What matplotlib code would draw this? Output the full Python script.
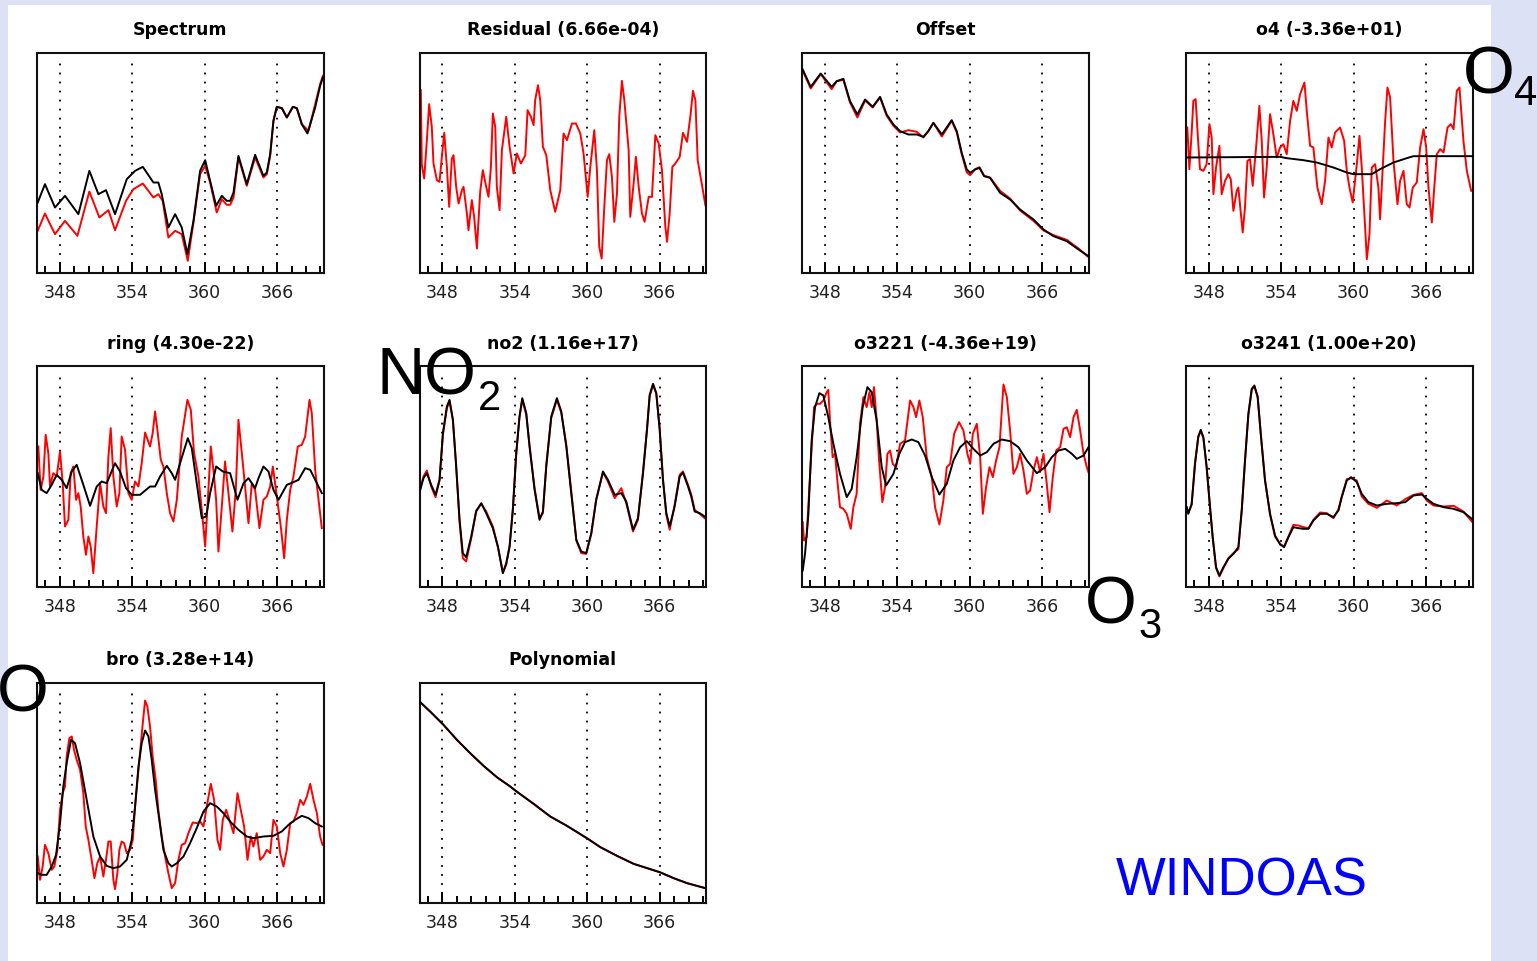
"""
WinDOAS fit result panels: measured (red) vs fitted (black) optical
densities for each fitted cross section, 346-370 nm window.
Y values are in arbitrary units (0-660 per panel), x is wavelength in nm.
"""
import matplotlib

matplotlib.use("Agg")
import matplotlib.pyplot as plt
from matplotlib.patches import Rectangle
from matplotlib.ticker import MultipleLocator

# ---- data -----------------------------------------------------------------
tick_nm = [348, 354, 360, 366]

spectrum_wl_k = [346.16, 346.76, 347.59, 348.42, 349.53, 350.44, 351.19, 351.82, 352.57, 353.54,
                 354.23, 354.87, 355.75, 356.16, 356.44, 356.99, 357.55, 358.10, 358.57, 359.07,
                 359.62, 360.04, 360.45, 360.95, 361.42, 361.83, 362.11, 362.39, 362.80, 363.49,
                 364.18, 364.87, 365.15, 365.43, 365.70, 365.98, 366.40, 366.81, 367.31, 367.64,
                 368.05, 368.52, 369.16, 369.57, 369.80]
spectrum_k = [210, 265, 195, 230, 175, 305, 235, 247, 175, 280,
              305, 317, 270, 270, 235, 135, 175, 135, 55, 155,
              305, 337, 275, 200, 230, 215, 215, 240, 350, 265,
              353, 290, 300, 355, 455, 497, 493, 465, 497, 493,
              445, 417, 495, 560, 585]
spectrum_wl_r = [346.16, 346.76, 347.59, 348.42, 349.45, 350.44, 351.27, 352.02, 352.57, 353.48,
                 354.09, 354.87, 355.75, 356.16, 356.52, 356.99, 357.55, 358.10, 358.60, 359.07,
                 359.62, 360.04, 360.45, 361.00, 361.42, 361.83, 362.11, 362.39, 362.80, 363.49,
                 364.18, 364.87, 365.15, 365.43, 365.70, 365.98, 366.40, 366.81, 367.31, 367.64,
                 368.05, 368.61, 369.16, 369.57, 369.80]
spectrum_r = [125, 177, 115, 155, 110, 243, 165, 187, 127, 215,
              250, 267, 225, 235, 215, 105, 125, 115, 35, 150,
              295, 320, 270, 180, 220, 203, 203, 225, 345, 260,
              345, 285, 295, 350, 455, 497, 493, 465, 497, 493,
              445, 425, 505, 565, 590]

residual_wl = [346.21, 346.29, 346.49, 346.71, 346.90, 347.12, 347.26, 347.54, 347.76, 347.98,
               348.15, 348.37, 348.56, 348.78, 348.92, 349.14, 349.34, 349.61, 349.75, 350.03,
               350.16, 350.44, 350.63, 350.86, 351.13, 351.35, 351.63, 351.82, 352.02, 352.18,
               352.38, 352.51, 352.74, 352.93, 353.29, 353.57, 353.90, 354.17, 354.51, 354.87,
               355.06, 355.34, 355.56, 355.69, 355.92, 356.11, 356.33, 356.61, 356.94, 357.35,
               357.77, 358.04, 358.32, 358.74, 359.07, 359.43, 359.70, 360.04, 360.26, 360.59,
               360.81, 361.00, 361.20, 361.42, 361.64, 361.83, 362.05, 362.25, 362.47, 362.66,
               362.88, 363.08, 363.44, 363.57, 363.85, 364.04, 364.27, 364.54, 364.76, 365.10,
               365.37, 365.65, 365.93, 366.20, 366.48, 366.62, 366.84, 367.06, 367.31, 367.67,
               367.94, 368.28, 368.55, 368.77, 368.97, 369.16, 369.52, 369.80]
residual = [547, 322, 282, 397, 505, 437, 327, 277, 272, 357,
            419, 317, 197, 342, 352, 257, 207, 247, 257, 177,
            127, 217, 167, 72, 242, 307, 257, 227, 317, 477,
            437, 257, 187, 367, 467, 377, 297, 357, 327, 352,
            487, 467, 442, 517, 562, 517, 377, 352, 247, 182,
            247, 417, 397, 447, 447, 417, 357, 227, 317, 427,
            307, 77, 42, 197, 337, 355, 287, 152, 237, 467,
            575, 517, 367, 167, 267, 347, 257, 177, 152, 227,
            227, 412, 387, 307, 137, 92, 177, 317, 327, 347,
            419, 392, 467, 545, 517, 337, 262, 202]

offset_wl = [346.16, 346.82, 347.65, 348.56, 348.98, 349.53, 350.08, 350.69, 351.33, 351.96,
             352.57, 353.12, 353.68, 354.23, 354.92, 355.61, 356.16, 356.58, 356.99, 357.69,
             358.51, 358.93, 359.34, 359.76, 360.04, 360.45, 360.81, 361.20, 361.69, 362.52,
             363.35, 364.18, 365.29, 366.12, 366.95, 368.05, 369.02, 369.85]
offset_k = [609, 557, 597, 557, 574, 581, 514, 474, 519, 497,
            527, 474, 444, 424, 414, 414, 407, 424, 449, 414,
            457, 424, 359, 309, 299, 309, 314, 289, 284, 239,
            219, 189, 159, 129, 109, 94, 69, 49]
offset_r = [605, 552, 595, 550, 574, 578, 510, 465, 516, 495,
            525, 470, 440, 420, 427, 422, 405, 425, 449, 408,
            455, 420, 355, 300, 292, 310, 316, 290, 285, 245,
            222, 186, 155, 126, 112, 98, 72, 46]

o4_wl_k = [346.15, 353.90, 354.45, 355.83, 356.94, 358.32, 359.43, 359.98, 361.50, 362.19,
           363.30, 364.40, 364.96, 369.85]
o4_k = [345, 347, 343, 337, 330, 315, 300, 295, 295, 310, 330, 343, 349, 349]
o4_wl_r = [346.21, 346.38, 346.57, 346.71, 346.90, 347.07, 347.26, 347.54, 347.81, 348.04,
           348.23, 348.37, 348.59, 348.87, 349.06, 349.34, 349.61, 349.81, 350.03, 350.30,
           350.44, 350.80, 350.99, 351.19, 351.41, 351.63, 351.91, 352.18, 352.38, 352.57,
           352.79, 353.07, 353.34, 353.62, 353.90, 354.17, 354.45, 354.73, 355.00, 355.28,
           355.56, 355.92, 356.11, 356.39, 356.66, 356.99, 357.35, 357.63, 357.91, 358.18,
           358.46, 358.87, 359.21, 359.43, 359.65, 359.92, 360.26, 360.48, 360.67, 360.95,
           361.09, 361.31, 361.50, 361.78, 362.05, 362.19, 362.41, 362.61, 362.80, 363.02,
           363.30, 363.63, 363.85, 364.13, 364.40, 364.63, 364.90, 365.23, 365.51, 365.79,
           366.01, 366.20, 366.48, 366.67, 366.89, 367.17, 367.45, 367.78, 368.05, 368.28,
           368.55, 368.77, 369.10, 369.38, 369.74]
o4_r = [435, 310, 420, 515, 520, 415, 310, 305, 325, 445,
        405, 235, 315, 380, 235, 275, 295, 280, 185, 245,
        255, 120, 195, 335, 340, 260, 375, 500, 395, 225,
        315, 475, 415, 345, 375, 385, 355, 455, 515, 485,
        535, 570, 485, 380, 375, 255, 205, 275, 405, 375,
        420, 435, 395, 305, 255, 210, 325, 410, 315, 135,
        40, 115, 315, 325, 255, 160, 315, 455, 555, 525,
        335, 205, 275, 305, 205, 195, 255, 270, 375, 430,
        375, 255, 150, 250, 355, 370, 360, 435, 445, 430,
        545, 555, 395, 305, 245]

ring_wl_k = [346.16, 346.49, 346.90, 347.32, 347.73, 348.15, 348.56, 348.98, 349.39, 349.94,
             350.50, 351.05, 351.46, 351.88, 352.57, 352.98, 353.48, 353.95, 354.64, 355.47,
             355.89, 356.30, 356.86, 357.27, 357.55, 357.96, 358.60, 358.93, 359.34, 359.76,
             360.12, 360.45, 360.95, 361.50, 362.11, 362.72, 363.22, 363.63, 364.18, 364.46,
             364.87, 365.29, 365.70, 366.12, 366.81, 367.36, 367.78, 368.33, 368.75, 369.30,
             369.71]
ring_k = [340, 290, 280, 305, 335, 320, 295, 345, 365, 305,
          242, 300, 315, 310, 370, 345, 295, 275, 275, 300,
          300, 330, 362, 340, 320, 370, 445, 415, 310, 205,
          210, 280, 360, 345, 340, 260, 310, 325, 295, 325,
          360, 345, 290, 260, 305, 313, 320, 355, 350, 310,
          280]
ring_wl_r = [346.21, 346.40, 346.63, 346.82, 347.04, 347.18, 347.45, 347.73, 348.01, 348.23,
             348.42, 348.70, 348.89, 349.11, 349.34, 349.53, 349.72, 349.94, 350.16, 350.36,
             350.55, 350.77, 351.05, 351.33, 351.60, 351.82, 352.02, 352.21, 352.43, 352.71,
             352.93, 353.12, 353.40, 353.68, 353.95, 354.23, 354.51, 354.78, 355.06, 355.47,
             355.69, 355.89, 356.08, 356.36, 356.58, 356.86, 357.13, 357.41, 357.69, 358.10,
             358.57, 358.85, 359.12, 359.48, 359.76, 360.04, 360.23, 360.51, 360.78, 360.95,
             361.14, 361.42, 361.69, 361.97, 362.30, 362.58, 362.80, 363.08, 363.35, 363.63,
             363.91, 364.18, 364.54, 364.87, 365.15, 365.43, 365.65, 365.98, 366.31, 366.59,
             366.81, 367.09, 367.36, 367.72, 368.05, 368.33, 368.69, 368.88, 369.16, 369.44,
             369.71]
ring_r = [420, 290, 330, 455, 400, 300, 340, 330, 405, 310,
          180, 200, 340, 360, 260, 280, 240, 150, 95, 150,
          120, 40, 180, 310, 240, 220, 390, 475, 330, 240,
          280, 450, 410, 280, 260, 315, 300, 370, 462, 420,
          460, 525, 470, 380, 360, 280, 220, 195, 260, 450,
          560, 530, 400, 330, 230, 120, 240, 420, 330, 260,
          105, 240, 375, 280, 165, 290, 500, 400, 300, 190,
          310, 290, 175, 260, 270, 300, 360, 270, 180, 85,
          200, 290, 330, 420, 425, 450, 560, 520, 350, 260,
          175]

no2_wl = [346.16, 346.43, 346.71, 347.07, 347.43, 347.76, 348.04, 348.37, 348.59, 348.87,
          349.14, 349.42, 349.69, 349.97, 350.39, 350.80, 351.22, 351.63, 352.18, 352.60,
          353.01, 353.29, 353.57, 353.84, 354.12, 354.39, 354.62, 354.95, 355.22, 355.64,
          356.05, 356.33, 356.61, 357.02, 357.49, 357.85, 358.27, 358.68, 359.10, 359.51,
          359.92, 360.34, 360.75, 361.31, 361.72, 362.28, 362.83, 363.24, 363.80, 364.21,
          364.63, 364.96, 365.18, 365.46, 365.73, 366.01, 366.28, 366.56, 366.84, 367.25,
          367.67, 367.94, 368.36, 368.63, 368.91, 369.33, 369.74]
no2_k = [290, 325, 340, 305, 275, 320, 460, 540, 560, 500,
         360, 200, 100, 88, 150, 225, 250, 220, 175, 120,
         40, 70, 120, 230, 400, 510, 565, 520, 420, 290,
         200, 225, 360, 510, 565, 525, 420, 280, 140, 105,
         100, 160, 260, 345, 320, 275, 280, 255, 170, 205,
         340, 470, 575, 608, 580, 470, 320, 220, 180, 240,
         330, 342, 300, 270, 225, 220, 210]
no2_r = [293, 330, 348, 300, 268, 318, 455, 535, 555, 498,
         362, 195, 85, 75, 145, 228, 248, 225, 180, 118,
         42, 65, 122, 235, 398, 508, 560, 515, 425, 295,
         205, 220, 365, 505, 560, 522, 425, 285, 138, 100,
         98, 158, 262, 342, 315, 265, 295, 250, 165, 200,
         345, 475, 570, 605, 578, 475, 325, 215, 170, 245,
         335, 345, 305, 275, 230, 218, 205]

o3221_wl_k = [346.16, 346.35, 346.63, 346.90, 347.18, 347.54, 347.87, 348.28, 348.70, 349.25,
              349.81, 350.22, 350.63, 351.13, 351.52, 351.88, 352.29, 352.71, 353.07, 353.68,
              354.17, 354.64, 355.20, 355.75, 356.30, 356.86, 357.49, 358.10, 358.65, 359.21,
              359.76, 360.31, 360.87, 361.42, 361.97, 362.66, 363.35, 364.04, 364.74, 365.57,
              366.26, 366.81, 367.36, 367.92, 368.47, 368.88, 369.44, 369.85]
o3221_k = [48, 98, 218, 438, 538, 580, 573, 508, 428, 338,
           268, 293, 388, 538, 598, 583, 498, 358, 303, 338,
           398, 433, 441, 433, 393, 328, 276, 308, 378, 418,
           436, 413, 393, 403, 428, 441, 436, 418, 378, 340,
           358, 388, 408, 413, 398, 383, 393, 418]
o3221_wl_r = [346.16, 346.27, 346.49, 346.71, 346.90, 347.10, 347.32, 347.59, 347.87, 348.15,
              348.28, 348.42, 348.64, 348.84, 349.03, 349.25, 349.53, 349.81, 350.14, 350.36,
              350.63, 350.91, 351.19, 351.46, 351.69, 351.88, 352.07, 352.29, 352.49, 352.76,
              352.98, 353.18, 353.40, 353.62, 353.90, 354.23, 354.64, 355.06, 355.34, 355.56,
              355.83, 356.11, 356.44, 356.86, 357.13, 357.49, 357.82, 358.10, 358.38, 358.71,
              359.12, 359.48, 359.81, 360.04, 360.26, 360.59, 360.87, 361.09, 361.36, 361.64,
              361.92, 362.19, 362.47, 362.80, 363.08, 363.35, 363.63, 363.91, 364.18, 364.46,
              364.74, 365.01, 365.29, 365.57, 365.84, 366.12, 366.39, 366.62, 366.89, 367.17,
              367.50, 367.78, 368.05, 368.33, 368.61, 368.88, 369.16, 369.44, 369.71, 369.85]
o3221_r = [193, 138, 148, 298, 418, 538, 548, 548, 558, 583,
           590, 498, 388, 398, 318, 238, 233, 218, 173, 238,
           278, 488, 568, 538, 583, 538, 598, 498, 378, 253,
           298, 398, 408, 368, 358, 428, 438, 558, 538, 508,
           558, 508, 388, 328, 238, 186, 258, 358, 368, 458,
           493, 468, 398, 368, 458, 488, 388, 218, 298, 358,
           328, 378, 418, 606, 568, 468, 338, 358, 398, 348,
           278, 288, 348, 388, 343, 398, 308, 223, 328, 408,
           418, 473, 478, 448, 508, 530, 468, 398, 358, 343]

o3241_wl = [346.16, 346.29, 346.57, 346.85, 347.12, 347.32, 347.54, 347.81, 348.09, 348.31,
            348.59, 348.87, 349.20, 349.61, 350.03, 350.44, 350.72, 350.99, 351.27, 351.55,
            351.77, 352.04, 352.32, 352.65, 353.07, 353.48, 353.90, 354.23, 354.59, 355.00,
            355.42, 355.83, 356.25, 356.66, 357.22, 357.77, 358.32, 358.74, 359.01, 359.43,
            359.79, 360.26, 360.67, 361.22, 361.92, 362.75, 363.57, 364.27, 364.96, 365.65,
            366.06, 366.62, 367.45, 368.28, 369.10, 369.80]
o3241_k = [238, 218, 248, 368, 448, 470, 448, 358, 238, 148,
           58, 33, 58, 83, 98, 118, 228, 378, 518, 593,
           603, 568, 448, 318, 218, 153, 126, 118, 148, 178,
           175, 173, 173, 198, 218, 218, 208, 228, 268, 318,
           328, 313, 278, 253, 243, 248, 250, 253, 273, 276,
           263, 248, 238, 233, 223, 203]
o3241_r = [236, 222, 245, 372, 452, 466, 445, 360, 240, 150,
           55, 30, 55, 85, 100, 112, 230, 375, 515, 590,
           600, 570, 450, 320, 215, 150, 128, 120, 150, 185,
           183, 178, 175, 200, 222, 220, 205, 232, 270, 322,
           325, 318, 270, 248, 236, 258, 243, 262, 275, 280,
           258, 243, 240, 242, 225, 195]

bro_wl_k = [346.16, 346.49, 346.90, 347.32, 347.68, 348.01, 348.28, 348.56, 348.92, 349.25,
            349.67, 350.22, 350.77, 351.33, 351.88, 352.43, 352.98, 353.54, 353.95, 354.23,
            354.51, 354.78, 355.06, 355.34, 355.61, 355.89, 356.16, 356.58, 356.99, 357.27,
            357.69, 358.24, 358.79, 359.34, 359.90, 360.45, 361.00, 361.56, 362.11, 362.80,
            363.49, 364.04, 364.87, 365.70, 366.39, 366.95, 367.50, 368.05, 368.61, 369.16,
            369.71]
bro_k = [88, 83, 83, 108, 143, 238, 348, 418, 488, 478,
         418, 308, 198, 138, 110, 103, 108, 128, 188, 288,
         408, 478, 516, 498, 428, 338, 268, 158, 118, 108,
         118, 138, 178, 223, 273, 298, 288, 268, 243, 218,
         198, 193, 198, 200, 213, 233, 248, 260, 253, 238,
         228]
bro_wl_r = [346.16, 346.35, 346.57, 346.76, 347.04, 347.32, 347.54, 347.79, 348.01, 348.23,
            348.42, 348.56, 348.78, 348.98, 349.17, 349.39, 349.67, 349.94, 350.14, 350.36,
            350.63, 350.86, 351.10, 351.33, 351.60, 351.82, 352.02, 352.21, 352.43, 352.57,
            352.76, 352.93, 353.12, 353.32, 353.54, 353.81, 354.04, 354.23, 354.64, 354.87,
            355.06, 355.25, 355.47, 355.69, 355.94, 356.16, 356.44, 356.72, 356.99, 357.27,
            357.55, 357.82, 358.10, 358.38, 358.65, 359.01, 359.34, 359.62, 359.90, 360.17,
            360.51, 360.78, 361.06, 361.28, 361.50, 361.78, 362.05, 362.39, 362.72, 362.99,
            363.27, 363.55, 363.82, 364.04, 364.32, 364.60, 364.87, 365.15, 365.43, 365.70,
            365.98, 366.26, 366.53, 366.81, 367.09, 367.36, 367.64, 367.92, 368.19, 368.47,
            368.75, 369.02, 369.30, 369.57, 369.77]
bro_r = [138, 68, 108, 173, 148, 98, 108, 158, 278, 328,
         348, 438, 493, 498, 458, 428, 398, 328, 228, 188,
         128, 73, 118, 138, 78, 128, 183, 183, 68, 40,
         88, 158, 183, 178, 148, 158, 188, 288, 448, 538,
         606, 588, 528, 438, 368, 278, 198, 138, 88, 43,
         58, 128, 173, 178, 208, 240, 238, 243, 228, 288,
         356, 308, 188, 158, 248, 278, 248, 208, 328, 278,
         228, 128, 198, 168, 208, 128, 138, 158, 148, 248,
         228, 148, 108, 158, 238, 243, 268, 308, 293, 318,
         356, 308, 268, 198, 173]

poly_wl = [346.16, 346.98, 348.09, 349.20, 350.30, 351.41, 352.51, 353.62, 354.15, 355.56,
           356.94, 358.32, 360.06, 361.09, 362.47, 363.85, 366.01, 367.17, 368.28, 369.80]
poly = [601, 573, 533, 488, 448, 410, 376, 348, 333, 296,
        258, 230, 191, 166, 140, 116, 91, 73, 58, 43]

panels = [
    ("Spectrum", (spectrum_wl_r, spectrum_r), (spectrum_wl_k, spectrum_k)),
    ("Residual (6.66e-04)", (residual_wl, residual), None),
    ("Offset", (offset_wl, offset_r), (offset_wl, offset_k)),
    ("o4 (-3.36e+01)", (o4_wl_r, o4_r), (o4_wl_k, o4_k)),
    ("ring (4.30e-22)", (ring_wl_r, ring_r), (ring_wl_k, ring_k)),
    ("no2 (1.16e+17)", (no2_wl, no2_r), (no2_wl, no2_k)),
    ("o3221 (-4.36e+19)", (o3221_wl_r, o3221_r), (o3221_wl_k, o3221_k)),
    ("o3241 (1.00e+20)", (o3241_wl, o3241_r), (o3241_wl, o3241_k)),
    ("bro (3.28e+14)", (bro_wl_r, bro_r), (bro_wl_k, bro_k)),
    ("Polynomial", (poly_wl, poly), (poly_wl, poly)),
]

# ---- layout (pixels of a 1537x961 canvas) ---------------------------------
W, H = 1537, 961
col_left = [37, 419.5, 802, 1186]
row_top = [52.5, 366.5, 682.5]
box_w, box_h = 286.5, 220


def fx(px):
    return px / W


def fy(py):
    return 1 - py / H


fig = plt.figure(figsize=(W / 100, H / 100), dpi=100, facecolor="#dde1f5")
# white slide area behind the panels (zorder below the axes)
fig.patches.append(Rectangle((fx(8), 0), fx(1491 - 8), fy(5), transform=fig.transFigure,
                             facecolor="white", edgecolor="none", zorder=-10))

for i, (title, red, black) in enumerate(panels):
    r, c = divmod(i, 4)
    left, top = col_left[c], row_top[r]
    ax = fig.add_axes([fx(left), fy(top + box_h), fx(box_w), box_h / H])
    ax.set_zorder(1)
    ax.set_xlim(346.1, 369.85)
    ax.set_ylim(0, 660)
    for x in tick_nm:
        ax.axvline(x, ymin=0, ymax=0.96, color="black", lw=1.3,
                   linestyle=(0, (1, 4)), zorder=1)
    if red is not None:
        ax.plot(red[0], red[1], color="#ff0000", lw=1.4, zorder=2)
    if black is not None:
        ax.plot(black[0], black[1], color="black", lw=1.4, zorder=3)

    ax.set_yticks([])
    ax.set_xticks(tick_nm)
    ax.set_xticklabels([str(t) for t in tick_nm])
    ax.xaxis.set_minor_locator(MultipleLocator(1.2))
    ax.tick_params(axis="x", which="major", direction="in", length=8, width=1.4,
                   pad=8, labelsize=12.5, labelcolor="#202020")
    ax.tick_params(axis="x", which="minor", direction="in", length=5, width=1.4)
    for s in ax.spines.values():
        s.set_linewidth(1.5)
        s.set_color("#111111")

    fig.text(fx(left + box_w / 2), fy(top - 17.5), title, ha="center", va="baseline",
             fontsize=12.5, fontweight="bold", color="black")

# big species labels and program name
big = dict(family="Liberation Sans", color="black", va="baseline", ha="left", zorder=5)
fig.text(fx(376), fy(395), "NO", fontsize=48, **big)
fig.text(fx(478), fy(410), "2", fontsize=30, **big)
fig.text(fx(1085), fy(624), "O", fontsize=48, **big)
fig.text(fx(1138), fy(638), "3", fontsize=30, **big)
fig.text(fx(1463), fy(94), "O", fontsize=48, **big)
fig.text(fx(1514), fy(105), "4", fontsize=30, **big)
fig.text(fx(-3), fy(712), "O", fontsize=48, **big)
fig.text(fx(1116), fy(895), "WINDOAS", fontsize=38, family="Liberation Sans",
         color="#0000ff", ha="left", va="baseline")

fig.savefig("out.png", dpi=100, facecolor=fig.get_facecolor())
